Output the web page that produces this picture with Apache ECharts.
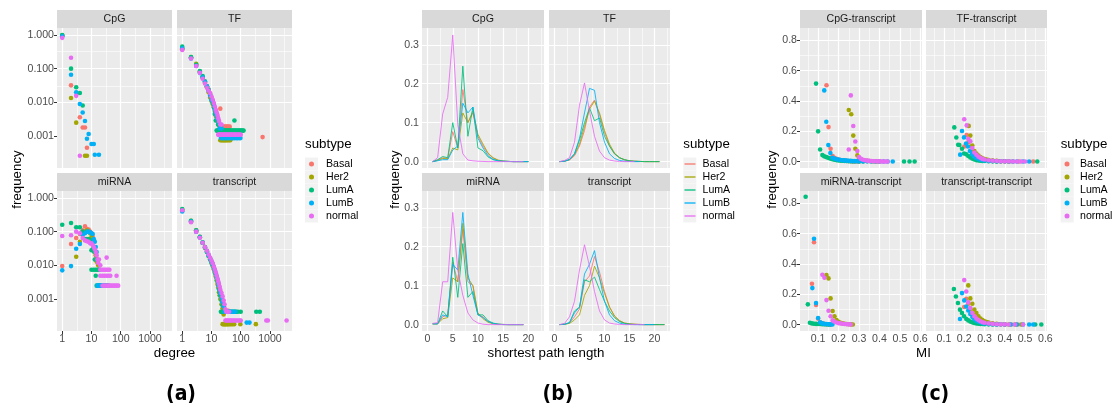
<!DOCTYPE html>
<html><head><meta charset="utf-8">
<script src="https://cdn.jsdelivr.net/npm/echarts@6/dist/echarts.min.js"></script>
<style>html,body{margin:0;padding:0;background:#fff}#c{width:1112px;height:409px}</style>
</head><body><div id="c"></div>
<script>
// ---------------- DATA ----------------
const subtypes = ['Basal', 'Her2', 'LumA', 'LumB', 'normal'];
const colors = ['#F8766D', '#A3A500', '#00BF7D', '#00B0F6', '#E76BF3'];

// (a) degree distribution, [degree, frequency] per subtype (Basal, Her2, LumA, LumB, normal)
const degCpG = [
  [[1,0.95],[2,0.032],[4,0.0036],[5,0.0018],[6,0.0018],[7,0.00045]],
  [[1,0.97],[2,0.0135],[3,0.0025],[6,0.00026],[7,0.00026]],
  [[1,1.0],[2,0.10],[3,0.028],[4,0.019],[5,0.0081]],
  [[1,0.92],[2,0.066],[3,0.020],[4,0.0089],[5,0.005],[6,0.0028],[7,0.00083],[8,0.00115],[10,0.00058],[12,0.00058],[13,0.00028],[18,0.00028]],
  [[1,0.82],[2,0.21],[3,0.0156],[4,0.00026]]
];
const degTF = [
  [[1,0.40],[2,0.21],[3,0.13],[4,0.082],[5,0.055],[6,0.04],[7,0.03],[8,0.023],[9,0.018],[10,0.014],[11,0.011],[12,0.009],[13,0.0065],[14,0.0055],[15,0.0046],[16,0.0037],[17,0.0028],[18,0.0028],[20,0.0065],[19,0.0019],[22,0.0019],[25,0.0019],[28,0.0019],[31,0.0019],[34,0.0019],[37,0.0019],[42,0.0019],[560,0.00093]],
  [[1,0.38],[2,0.22],[3,0.14],[4,0.08],[5,0.055],[6,0.038],[7,0.028],[8,0.02],[9,0.014],[10,0.011],[11,0.009],[12,0.0075],[13,0.0055],[14,0.004],[15,0.0036],[16,0.0029],[17,0.0022],[18,0.0015],[20,0.00146],[20,0.00075],[22,0.00075],[24,0.00075],[26,0.00075],[28,0.00075],[30,0.00075],[33,0.00075],[36,0.00075],[40,0.00075],[44,0.00075]],
  [[1,0.45],[2,0.22],[3,0.13],[4,0.085],[5,0.06],[6,0.042],[7,0.03],[8,0.024],[9,0.017],[10,0.012],[11,0.0095],[12,0.007],[13,0.0045],[14,0.0029],[16,0.0029],[17,0.0022],[18,0.0022],[61,0.0029],[15,0.00145],[16,0.00145],[17,0.00145],[18,0.00145],[19,0.00145],[20,0.00145],[22,0.00145],[24,0.00145],[26,0.00145],[28,0.00145],[30,0.00145],[32,0.00145],[35,0.00145],[38,0.00145],[41,0.00145],[45,0.00145],[50,0.00145],[55,0.00145],[60,0.00145],[66,0.00145],[72,0.00145],[80,0.00145],[88,0.00145],[96,0.00145],[105,0.00145],[115,0.00145],[125,0.00145]],
  [[1,0.40],[2,0.2],[3,0.12],[4,0.075],[5,0.055],[6,0.04],[7,0.03],[8,0.022],[9,0.016],[10,0.012],[11,0.011],[12,0.0085],[13,0.006],[14,0.005],[15,0.004],[16,0.0033],[18,0.0025],[19,0.0017],[20,0.0017],[22,0.0017],[21,0.00087],[23,0.00087],[25,0.00087],[27,0.00087],[30,0.00087],[33,0.00087],[36,0.00087],[40,0.00087],[45,0.00087],[50,0.00087],[56,0.00087],[62,0.00087],[70,0.00087],[78,0.00087],[88,0.00087],[98,0.00087]],
  [[1,0.36],[2,0.2],[3,0.12],[4,0.075],[5,0.05],[6,0.036],[7,0.027],[8,0.022],[9,0.019],[10,0.015],[11,0.012],[12,0.0095],[13,0.0075],[14,0.006],[15,0.005],[16,0.0042],[17,0.0034],[18,0.0028],[20,0.0022],[22,0.0022],[17,0.0011],[18,0.0011],[19,0.0011],[21,0.0011],[23,0.0011],[25,0.0011],[27,0.0011],[29,0.0011],[32,0.0011],[35,0.0011],[38,0.0011],[42,0.0011],[46,0.0011],[51,0.0011],[56,0.0011],[62,0.0011],[68,0.0011],[75,0.0011],[83,0.0011],[92,0.0011],[100,0.0011]]
];
const degMiRNA = [
  [[1,0.0095],[2,0.043],[3,0.065],[4,0.085],[5,0.11],[6,0.145],[7,0.12],[8,0.115],[9,0.1],[10,0.09],[11,0.07],[12,0.05],[13,0.03],[14,0.022],[15,0.016],[16,0.012]],
  [[3,0.018],[4,0.05],[5,0.09],[6,0.1],[7,0.11],[8,0.1],[9,0.09],[10,0.07],[11,0.05],[12,0.035],[13,0.025],[14,0.02],[15,0.013],[17,0.01]],
  [[1,0.16],[2,0.18],[3,0.135],[4,0.135],[5,0.1],[6,0.06],[7,0.06],[8,0.06],[9,0.055],[10,0.028],[11,0.03],[12,0.026],[13,0.015],[10,0.0074],[12,0.0074],[14,0.0074],[16,0.0074],[18,0.0074],[14,0.0049],[15,0.0025],[17,0.0025],[19,0.0025],[21,0.0025],[23,0.0025],[25,0.0025],[28,0.0025],[31,0.0025],[35,0.0025],[39,0.0025]],
  [[1,0.0071],[2,0.0095],[3,0.031],[4,0.043],[5,0.08],[6,0.09],[7,0.1],[8,0.1],[9,0.095],[10,0.09],[11,0.085],[12,0.06],[13,0.05],[14,0.035],[15,0.025],[16,0.0025],[18,0.0025],[20,0.0025],[22,0.0025],[25,0.0025],[28,0.0025],[32,0.0025]],
  [[1,0.074],[2,0.078],[3,0.1],[4,0.09],[5,0.065],[6,0.055],[7,0.052],[8,0.05],[9,0.045],[10,0.045],[11,0.04],[12,0.035],[13,0.03],[14,0.025],[15,0.02],[16,0.015],[17,0.012],[18,0.015],[20,0.01],[33,0.017],[20,0.0074],[23,0.0074],[26,0.0074],[29,0.0074],[33,0.0074],[37,0.0074],[41,0.0074],[20,0.0049],[24,0.0049],[28,0.0049],[33,0.0049],[38,0.0049],[44,0.0049],[72,0.0049],[24,0.0025],[28,0.0025],[32,0.0025],[37,0.0025],[42,0.0025],[48,0.0025],[55,0.0025],[63,0.0025],[72,0.0025],[82,0.0025]]
];
const degTranscript = [
  [[1,0.42],[2,0.2],[3,0.1],[4,0.07],[5,0.047],[6,0.035],[7,0.027],[8,0.02],[9,0.016],[10,0.013],[11,0.011],[12,0.0088],[13,0.007],[14,0.0055],[15,0.0045],[16,0.0037],[17,0.003],[18,0.0025],[19,0.002],[21,0.0016],[23,0.0012],[25,0.0009],[27,0.0006],[30,0.00045],[34,0.00045],[38,0.00045]],
  [[1,0.45],[2,0.21],[3,0.11],[4,0.068],[5,0.046],[6,0.033],[7,0.025],[8,0.019],[9,0.015],[10,0.012],[11,0.0095],[12,0.0075],[13,0.006],[14,0.0047],[15,0.0036],[16,0.0028],[17,0.0022],[18,0.0016],[19,0.0013],[20,0.001],[22,0.0007],[24,0.00053],[26,0.00035],[24,0.00018],[26,0.00018],[28,0.00018],[30,0.00018],[32,0.00018],[35,0.00018],[38,0.00018],[42,0.00018],[47,0.00018],[53,0.00018],[60,0.00018],[97,0.00018],[330,0.00018]],
  [[1,0.47],[2,0.21],[3,0.11],[4,0.07],[5,0.048],[6,0.035],[7,0.025],[8,0.019],[9,0.015],[10,0.012],[11,0.01],[12,0.008],[13,0.0064],[14,0.0052],[15,0.0042],[16,0.0034],[17,0.0026],[18,0.002],[19,0.0016],[20,0.0013],[22,0.0009],[24,0.00065],[21,0.00042],[23,0.00042],[25,0.00042],[27,0.00042],[30,0.00042],[33,0.00042],[36,0.00042],[40,0.00042],[45,0.00042],[50,0.00042],[56,0.00042],[63,0.00042],[70,0.00042],[80,0.00042],[100,0.00042],[340,0.00042],[450,0.00042]],
  [[1,0.4],[2,0.2],[3,0.1],[4,0.067],[5,0.047],[6,0.034],[7,0.026],[8,0.02],[9,0.016],[10,0.013],[11,0.011],[12,0.009],[13,0.0072],[14,0.0058],[15,0.0047],[16,0.0038],[17,0.003],[18,0.0024],[19,0.0019],[20,0.0015],[22,0.0011],[24,0.0008],[26,0.0006],[28,0.00042],[31,0.00042],[34,0.00042],[38,0.00042],[42,0.00042],[47,0.00042],[52,0.00042],[58,0.00042],[65,0.00042],[160,0.0002],[200,0.0002]],
  [[1,0.43],[2,0.19],[3,0.1],[4,0.066],[5,0.047],[6,0.035],[7,0.027],[8,0.021],[9,0.017],[10,0.014],[11,0.0115],[12,0.0093],[13,0.0076],[14,0.0062],[15,0.005],[16,0.0041],[17,0.0034],[18,0.0028],[19,0.0023],[20,0.0019],[22,0.0015],[24,0.0012],[26,0.0009],[28,0.0007],[30,0.0005],[32,0.00042],[36,0.00042],[40,0.00042],[30,0.00023],[33,0.00023],[36,0.00023],[40,0.00023],[44,0.00023],[49,0.00023],[55,0.00023],[62,0.00023],[70,0.00023],[80,0.00023],[92,0.00023],[100,0.00023],[750,0.00023],[850,0.00023],[3700,0.00023]]
];

// (b) shortest path length distribution: frequency at path length 1, 2, 3, ... per subtype
const splCpG = [
  [0,0.004,0.01,0.008,0.077,0.035,0.185,0.1,0.125,0.065,0.04,0.02,0.009,0.003,0.001,0.0005,0,0,0,0],
  [0,0.003,0.008,0.007,0.035,0.03,0.125,0.1,0.13,0.07,0.045,0.022,0.01,0.004,0.0015,0.0005,0,0,0,0],
  [0,0.005,0.013,0.01,0.1,0.035,0.245,0.065,0.14,0.035,0.028,0.012,0.005,0.002,0.001,0.0005,0,0,0,0],
  [0,0.002,0.005,0.005,0.03,0.04,0.15,0.125,0.14,0.06,0.035,0.015,0.006,0.002,0.001,0.0005,0,0,0,0],
  [0,0.01,0.122,0.165,0.325,0.095,0.02,0.004,0.002,0.001,0.0005,0,0,0,0,0,0,0,0]
];
const splTF = [
  [0,0.001,0.004,0.015,0.04,0.08,0.14,0.158,0.12,0.075,0.04,0.02,0.01,0.004,0.002,0.001,0.0005,0,0,0,0],
  [0,0.001,0.005,0.018,0.045,0.09,0.135,0.155,0.125,0.08,0.045,0.022,0.01,0.005,0.002,0.001,0.0005,0,0,0,0],
  [0,0.001,0.006,0.02,0.055,0.1,0.138,0.105,0.112,0.065,0.04,0.02,0.01,0.005,0.002,0.001,0.0005,0,0,0,0],
  [0,0.001,0.005,0.02,0.06,0.125,0.188,0.183,0.1,0.05,0.02,0.008,0.003,0.001,0.0005,0,0],
  [0,0.003,0.01,0.05,0.145,0.202,0.13,0.065,0.027,0.01,0.004,0.0015,0.0005,0,0,0]
];
const splMiRNA = [
  [0.002,0.002,0.02,0.025,0.16,0.11,0.245,0.11,0.1,0.025,0.02,0.008,0.003,0.001,0.0005,0,0,0,0],
  [0.002,0.002,0.015,0.018,0.12,0.11,0.26,0.12,0.1,0.03,0.015,0.006,0.002,0.001,0,0,0,0,0],
  [0.002,0.002,0.035,0.02,0.173,0.07,0.208,0.07,0.085,0.025,0.025,0.01,0.004,0.001,0.0005,0,0,0,0],
  [0.002,0.002,0.025,0.02,0.155,0.14,0.288,0.13,0.075,0.025,0.018,0.008,0.003,0.001,0,0,0,0,0],
  [0.003,0.005,0.11,0.11,0.288,0.14,0.075,0.03,0.012,0.004,0.001,0,0,0,0,0,0,0,0]
];
const splTranscript = [
  [0,0.001,0.004,0.02,0.04,0.11,0.125,0.175,0.135,0.085,0.045,0.022,0.01,0.004,0.002,0.001,0.0005,0,0,0,0,0],
  [0,0.001,0.003,0.012,0.025,0.075,0.1,0.15,0.12,0.08,0.045,0.022,0.01,0.004,0.002,0.001,0.0005,0,0,0,0,0],
  [0,0.001,0.005,0.035,0.045,0.115,0.11,0.122,0.09,0.06,0.035,0.018,0.008,0.003,0.001,0.0005,0,0,0,0,0,0],
  [0,0.001,0.005,0.03,0.045,0.13,0.155,0.19,0.12,0.06,0.025,0.01,0.004,0.001,0.0005,0,0,0,0,0],
  [0,0.003,0.02,0.06,0.14,0.205,0.15,0.085,0.035,0.012,0.004,0.0015,0.0005,0,0,0,0,0]
];

// (c) MI distribution, [MI, frequency] per subtype
const miCpG = [
  [[0.141,0.504],[0.151,0.228],[0.161,0.085],[0.171,0.037],[0.18,0.025],[0.19,0.018],[0.2,0.013],[0.21,0.01],[0.22,0.008],[0.23,0.006],[0.24,0.005],[0.25,0.004],[0.26,0.003],[0.27,0.002],[0.28,0.002],[0.29,0.001],[0.3,0.001]],
  [[0.25,0.341],[0.262,0.313],[0.272,0.172],[0.282,0.085],[0.292,0.041],[0.3,0.02],[0.31,0.012],[0.32,0.008],[0.33,0.006],[0.34,0.005],[0.35,0.004],[0.36,0.003],[0.37,0.002],[0.38,0.002],[0.39,0.001],[0.4,0.001]],
  [[0.09,0.515],[0.1,0.2],[0.11,0.08],[0.121,0.043],[0.13,0.035],[0.14,0.03],[0.15,0.025],[0.16,0.02],[0.17,0.016],[0.18,0.013],[0.19,0.01],[0.2,0.008],[0.21,0.007],[0.22,0.006],[0.23,0.005],[0.24,0.004],[0.25,0.003],[0.26,0.003],[0.27,0.002],[0.28,0.002],[0.3,0.001],[0.32,0.001],[0.52,0.001],[0.547,0.001],[0.572,0.001]],
  [[0.13,0.47],[0.14,0.263],[0.15,0.109],[0.16,0.057],[0.17,0.026],[0.18,0.02],[0.19,0.016],[0.2,0.013],[0.21,0.011],[0.22,0.009],[0.23,0.008],[0.24,0.007],[0.25,0.006],[0.26,0.005],[0.27,0.004],[0.28,0.004],[0.29,0.003],[0.3,0.003],[0.32,0.002],[0.34,0.002],[0.36,0.001],[0.38,0.001],[0.4,0.001],[0.42,0.001],[0.44,0.001],[0.465,0.001]],
  [[0.25,0.08],[0.26,0.437],[0.272,0.235],[0.282,0.133],[0.292,0.07],[0.3,0.03],[0.31,0.018],[0.32,0.012],[0.33,0.009],[0.34,0.007],[0.35,0.005],[0.36,0.004],[0.37,0.003],[0.38,0.003],[0.39,0.002],[0.4,0.002],[0.41,0.001],[0.42,0.001],[0.43,0.001],[0.44,0.001]]
];
const miTF = [
  [[0.2,0.1],[0.212,0.176],[0.222,0.13],[0.232,0.1],[0.242,0.07],[0.252,0.05],[0.262,0.037],[0.272,0.028],[0.282,0.02],[0.292,0.015],[0.3,0.012],[0.32,0.008],[0.34,0.005],[0.36,0.003],[0.38,0.002],[0.4,0.002],[0.42,0.001],[0.44,0.001],[0.47,0.001],[0.54,0.001]],
  [[0.222,0.236],[0.23,0.172],[0.24,0.106],[0.25,0.07],[0.26,0.054],[0.27,0.04],[0.28,0.03],[0.29,0.022],[0.3,0.017],[0.31,0.013],[0.32,0.01],[0.34,0.007],[0.36,0.005],[0.38,0.003],[0.4,0.002],[0.42,0.001]],
  [[0.151,0.226],[0.161,0.159],[0.17,0.111],[0.176,0.11],[0.189,0.085],[0.199,0.054],[0.21,0.048],[0.22,0.037],[0.23,0.028],[0.24,0.02],[0.25,0.014],[0.26,0.01],[0.27,0.008],[0.28,0.006],[0.29,0.005],[0.3,0.004],[0.32,0.003],[0.34,0.002],[0.36,0.001],[0.56,0.001]],
  [[0.18,0.046],[0.189,0.202],[0.199,0.16],[0.209,0.12],[0.218,0.1],[0.228,0.07],[0.238,0.05],[0.248,0.035],[0.258,0.025],[0.27,0.018],[0.28,0.013],[0.29,0.01],[0.3,0.008],[0.32,0.005],[0.34,0.004],[0.36,0.003],[0.38,0.002],[0.4,0.002],[0.42,0.001],[0.44,0.001],[0.46,0.001],[0.49,0.001],[0.52,0.001]],
  [[0.2,0.28],[0.212,0.239],[0.22,0.15],[0.23,0.135],[0.24,0.09],[0.25,0.06],[0.26,0.045],[0.27,0.033],[0.28,0.025],[0.29,0.018],[0.3,0.014],[0.32,0.009],[0.34,0.006],[0.36,0.004],[0.38,0.003],[0.4,0.002],[0.42,0.002],[0.44,0.001],[0.46,0.001],[0.48,0.001],[0.5,0.001]]
];
const miMiRNA = [
  [[0.07,0.27],[0.08,0.544],[0.09,0.13],[0.1,0.04],[0.11,0.015],[0.12,0.008],[0.13,0.005],[0.14,0.003],[0.15,0.002],[0.16,0.001]],
  [[0.141,0.327],[0.151,0.305],[0.161,0.173],[0.171,0.09],[0.18,0.055],[0.19,0.03],[0.2,0.018],[0.21,0.012],[0.22,0.008],[0.23,0.006],[0.24,0.004],[0.25,0.003],[0.26,0.002],[0.27,0.001]],
  [[0.039,0.844],[0.05,0.134],[0.06,0.012],[0.07,0.008],[0.08,0.006],[0.09,0.005],[0.1,0.004],[0.11,0.004],[0.12,0.003],[0.13,0.003],[0.14,0.002],[0.15,0.002],[0.16,0.001]],
  [[0.072,0.241],[0.08,0.567],[0.09,0.142],[0.1,0.044],[0.11,0.015],[0.12,0.008],[0.13,0.005],[0.14,0.004],[0.15,0.003],[0.16,0.002],[0.17,0.001]],
  [[0.121,0.329],[0.131,0.309],[0.141,0.162],[0.151,0.092],[0.161,0.055],[0.171,0.028],[0.18,0.02],[0.19,0.014],[0.2,0.01],[0.21,0.008],[0.22,0.006],[0.23,0.004],[0.24,0.003],[0.25,0.002],[0.26,0.001]]
];
const miTranscript = [
  [[0.2,0.116],[0.21,0.171],[0.22,0.138],[0.23,0.1],[0.24,0.07],[0.25,0.05],[0.26,0.036],[0.27,0.026],[0.28,0.019],[0.29,0.014],[0.3,0.011],[0.32,0.007],[0.34,0.004],[0.36,0.003],[0.38,0.002],[0.4,0.001],[0.43,0.001],[0.46,0.001]],
  [[0.22,0.259],[0.23,0.173],[0.24,0.138],[0.25,0.099],[0.26,0.077],[0.27,0.055],[0.28,0.04],[0.29,0.03],[0.3,0.022],[0.31,0.017],[0.32,0.013],[0.34,0.008],[0.36,0.005],[0.38,0.003],[0.4,0.002],[0.42,0.001],[0.45,0.001],[0.48,0.001]],
  [[0.149,0.235],[0.159,0.186],[0.169,0.143],[0.179,0.099],[0.189,0.077],[0.199,0.055],[0.21,0.037],[0.22,0.028],[0.23,0.02],[0.24,0.015],[0.25,0.011],[0.26,0.008],[0.27,0.006],[0.28,0.005],[0.29,0.004],[0.3,0.003],[0.32,0.002],[0.34,0.001],[0.36,0.001],[0.55,0.001],[0.58,0.001]],
  [[0.179,0.037],[0.189,0.208],[0.2,0.16],[0.21,0.12],[0.22,0.094],[0.23,0.07],[0.24,0.05],[0.25,0.036],[0.26,0.026],[0.27,0.019],[0.28,0.014],[0.29,0.01],[0.3,0.008],[0.32,0.005],[0.34,0.003],[0.36,0.002],[0.38,0.002],[0.4,0.001],[0.43,0.001],[0.46,0.001],[0.49,0.001],[0.52,0.001],[0.54,0.001]],
  [[0.2,0.294],[0.21,0.219],[0.22,0.147],[0.23,0.11],[0.24,0.077],[0.25,0.055],[0.26,0.04],[0.27,0.03],[0.28,0.022],[0.29,0.016],[0.3,0.012],[0.32,0.008],[0.34,0.005],[0.36,0.003],[0.38,0.002],[0.4,0.002],[0.42,0.001],[0.45,0.001],[0.49,0.001]]
];

// tick / break values
const aXMajor = [1, 10, 100, 1000], aXMinor = [3.162, 31.62, 316.2, 3162];
const aYMajor = [0.001, 0.01, 0.1, 1], aYMinor = [0.0003162, 0.003162, 0.03162, 0.3162];
const bXMajor = [0, 5, 10, 15, 20], bXMinor = [2.5, 7.5, 12.5, 17.5, 22.5];
const bYMajor = [0, 0.1, 0.2, 0.3], bYMinor = [0.05, 0.15, 0.25];
const cXMajor = [0.1, 0.2, 0.3, 0.4, 0.5, 0.6], cXMinor = [0.05, 0.15, 0.25, 0.35, 0.45, 0.55];
const cYMajor = [0, 0.2, 0.4, 0.6, 0.8], cYMinor = [0.1, 0.3, 0.5, 0.7];

// ---------------- LAYOUT ----------------
const FONT = "'Liberation Sans', Arial, Helvetica, sans-serif";
const rowTop = [28, 191], rowH = 140, stripH = 18;
const panelCols = {
  a: [[57, 115], [177, 115]],
  b: [[422, 122], [549, 121]],
  c: [[800, 122], [926, 121]]
};
const panelAxes = {
  a: {xType: 'log', yType: 'log', xMin: 0.662, xMax: 5675, yMin: 1.127e-4, yMax: 1.61,
      xMaj: aXMajor, xMin2: aXMinor, yMaj: aYMajor, yMin2: aYMinor,
      xf: v => String(Math.round(v)), yf: v => v.toFixed(3)},
  b: {xType: 'value', yType: 'value', xMin: -1.1, xMax: 23.1, yMin: -0.0164, yMax: 0.343,
      xMaj: bXMajor, xMin2: bXMinor, yMaj: bYMajor, yMin2: bYMinor,
      xf: v => String(v), yf: v => v.toFixed(1)},
  c: {xType: 'value', yType: 'value', xMin: 0.0115, xMax: 0.608, yMin: -0.042, yMax: 0.882,
      xMaj: cXMajor, xMin2: cXMinor, yMaj: cYMajor, yMin2: cYMinor,
      xf: v => v.toFixed(1), yf: v => v.toFixed(1)}
};
const facets = [
  {p: 'a', r: 0, c: 0, title: 'CpG', data: degCpG, kind: 'scatter'},
  {p: 'a', r: 0, c: 1, title: 'TF', data: degTF, kind: 'scatter'},
  {p: 'a', r: 1, c: 0, title: 'miRNA', data: degMiRNA, kind: 'scatter'},
  {p: 'a', r: 1, c: 1, title: 'transcript', data: degTranscript, kind: 'scatter'},
  {p: 'b', r: 0, c: 0, title: 'CpG', data: splCpG, kind: 'line'},
  {p: 'b', r: 0, c: 1, title: 'TF', data: splTF, kind: 'line'},
  {p: 'b', r: 1, c: 0, title: 'miRNA', data: splMiRNA, kind: 'line'},
  {p: 'b', r: 1, c: 1, title: 'transcript', data: splTranscript, kind: 'line'},
  {p: 'c', r: 0, c: 0, title: 'CpG-transcript', data: miCpG, kind: 'scatter'},
  {p: 'c', r: 0, c: 1, title: 'TF-transcript', data: miTF, kind: 'scatter'},
  {p: 'c', r: 1, c: 0, title: 'miRNA-transcript', data: miMiRNA, kind: 'scatter'},
  {p: 'c', r: 1, c: 1, title: 'transcript-transcript', data: miTranscript, kind: 'scatter'}
];

const option = {animation: false, grid: [], xAxis: [], yAxis: [], series: [], legend: [], graphic: []};
const G = option.graphic;

facets.forEach((f, i) => {
  const [left, width] = panelCols[f.p][f.c];
  const top = rowTop[f.r];
  const ax = panelAxes[f.p];
  const showX = f.r === 1, showY = f.c === 0;
  option.grid.push({left, top, width, height: rowH, show: true, backgroundColor: '#EBEBEB', borderWidth: 0, containLabel: false});
  option.xAxis.push({
    gridIndex: i, type: ax.xType, logBase: 10, min: ax.xMin, max: ax.xMax,
    axisLine: {show: false}, splitLine: {show: false}, minorTick: {show: false},
    axisTick: {show: showX, length: 3, customValues: ax.xMaj, lineStyle: {color: '#333333', width: 1}},
    axisLabel: {show: showX, customValues: ax.xMaj, margin: 3, color: '#4D4D4D', fontSize: 10.6, fontFamily: FONT, formatter: ax.xf, hideOverlap: false}
  });
  option.yAxis.push({
    gridIndex: i, type: ax.yType, logBase: 10, min: ax.yMin, max: ax.yMax,
    axisLine: {show: false}, splitLine: {show: false}, minorTick: {show: false},
    axisTick: {show: showY, length: 3, customValues: ax.yMaj, lineStyle: {color: '#333333', width: 1}},
    axisLabel: {show: showY, customValues: ax.yMaj, margin: 3, color: '#4D4D4D', fontSize: 10.6, fontFamily: FONT, formatter: ax.yf, hideOverlap: false}
  });
  // panel grid lines (white) drawn through the axes' own scales
  const ml = [];
  ax.xMin2.forEach(v => ml.push({xAxis: v, lineStyle: {color: '#FFFFFF', width: 0.6, type: 'solid'}}));
  ax.yMin2.forEach(v => ml.push({yAxis: v, lineStyle: {color: '#FFFFFF', width: 0.6, type: 'solid'}}));
  ax.xMaj.forEach(v => ml.push({xAxis: v, lineStyle: {color: '#FFFFFF', width: 1.2, type: 'solid'}}));
  ax.yMaj.forEach(v => ml.push({yAxis: v, lineStyle: {color: '#FFFFFF', width: 1.2, type: 'solid'}}));
  option.series.push({
    type: 'line', name: 'grid' + i, xAxisIndex: i, yAxisIndex: i, data: [], silent: true, z: 1,
    markLine: {silent: true, z: 1, symbol: ['none', 'none'], label: {show: false}, animation: false,
      emphasis: {disabled: true}, data: ml}
  });
  f.data.forEach((d, k) => {
    if (f.kind === 'scatter') {
      option.series.push({
        type: 'scatter', name: subtypes[k], xAxisIndex: i, yAxisIndex: i, z: 3,
        data: d, symbol: 'circle', symbolSize: 4.6,
        itemStyle: {color: colors[k], opacity: 1}, emphasis: {disabled: true}
      });
    } else {
      option.series.push({
        type: 'line', name: subtypes[k], xAxisIndex: i, yAxisIndex: i, z: 3,
        data: d.map((y, j) => [j + 1, y]), symbol: 'none', showSymbol: false,
        lineStyle: {color: colors[k], width: 1, opacity: 0.85}, itemStyle: {color: colors[k]},
        emphasis: {disabled: true}
      });
    }
  });
  // strip
  G.push({type: 'rect', silent: true, shape: {x: left, y: top - stripH, width: width, height: stripH}, style: {fill: '#D9D9D9'}});
  G.push({type: 'text', silent: true, x: left + width / 2, y: top - stripH / 2,
    style: {text: f.title, fill: '#1A1A1A', fontSize: 10.6, fontFamily: FONT, align: 'center', verticalAlign: 'middle', textAlign: 'center', textVerticalAlign: 'middle'}});
});

// legends
const legendDefs = [
  {box: 305, icon: 'circle', w: 5, h: 5, iconLeft: 309, textPad: 7},
  {box: 683.3, icon: 'rect', w: 11, h: 1.3, iconLeft: 684.5, textPad: 2},
  {box: 1060.7, icon: 'circle', w: 5, h: 5, iconLeft: 1064.5, textPad: 5.5}
];
legendDefs.forEach(L => {
  subtypes.forEach((s, k) => {
    G.push({type: 'rect', silent: true, z: -1, shape: {x: L.box, y: 157.5 + k * 13, width: 13, height: 13}, style: {fill: '#F2F2F2'}});
  });
  option.legend.push({
    orient: 'vertical', left: L.iconLeft, top: 157.5, padding: 0, itemGap: 0,
    itemWidth: L.w, itemHeight: L.h, icon: L.icon, selectedMode: false,
    data: subtypes,
    textStyle: {fontSize: 10.6, color: '#000000', fontFamily: FONT, lineHeight: 13, padding: [0, 0, 0, L.textPad]}
  });
  G.push({type: 'text', silent: true, x: L.box, y: 144,
    style: {text: 'subtype', fill: '#000000', fontSize: 13.3, fontFamily: FONT, align: 'left', verticalAlign: 'middle', textAlign: 'left', textVerticalAlign: 'middle'}});
});

// axis titles
[[17.5, 'frequency'], [395, 'frequency'], [772, 'frequency']].forEach(([x, t]) => {
  G.push({type: 'text', silent: true, x: x, y: 179.5, rotation: Math.PI / 2,
    style: {text: t, fill: '#000000', fontSize: 13.3, fontFamily: FONT, align: 'center', verticalAlign: 'middle', textAlign: 'center', textVerticalAlign: 'middle'}});
});
[[174.5, 'degree'], [546, 'shortest path length'], [923.5, 'MI']].forEach(([x, t]) => {
  G.push({type: 'text', silent: true, x: x, y: 353.5,
    style: {text: t, fill: '#000000', fontSize: 13.3, fontFamily: FONT, align: 'center', verticalAlign: 'middle', textAlign: 'center', textVerticalAlign: 'middle'}});
});
// captions
[[181, '(a)'], [558, '(b)'], [935, '(c)']].forEach(([x, t]) => {
  G.push({type: 'text', silent: true, x: x, y: 395,
    style: {text: t, fill: '#000000', fontSize: 21, fontWeight: 'bold', fontFamily: "'DejaVu Sans Condensed', 'DejaVu Sans', sans-serif", align: 'center', verticalAlign: 'middle', textAlign: 'center', textVerticalAlign: 'middle'}});
});

const chart = echarts.init(document.getElementById('c'), null, {renderer: 'canvas', width: 1112, height: 409});
chart.setOption(option);
</script>
</body></html>
